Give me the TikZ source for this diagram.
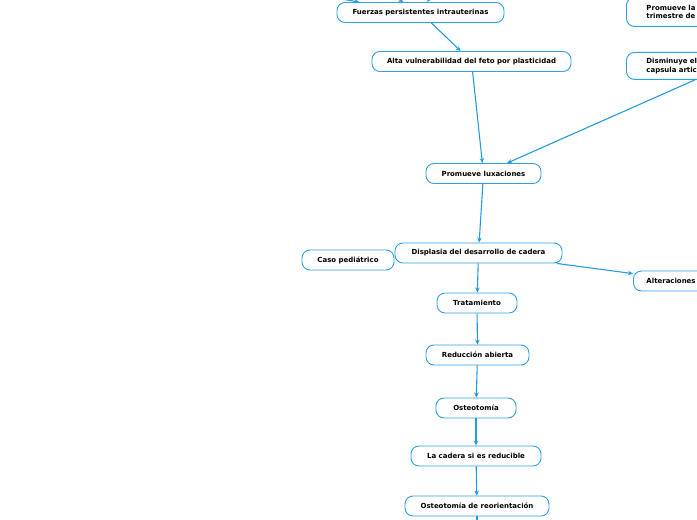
\documentclass[tikz,border=0pt]{standalone}
\usepackage{fontspec}
\setmainfont{DejaVu Sans}
\usetikzlibrary{arrows.meta}
\definecolor{edgeblue}{RGB}{35,155,225}
\definecolor{boxblue}{RGB}{45,160,230}
\tikzset{
  topic/.style={draw=boxblue, line width=0.9bp, rounded corners=8bp, fill=white,
    minimum height=20bp, inner sep=0pt, font=\fontsize{7}{8.4}\selectfont\bfseries, text=black},
  link/.style={draw=edgeblue, line width=1.1bp, -{Stealth[length=5bp,width=4.5bp]}},
}
\begin{document}
\begin{tikzpicture}[x=1bp,y=-1bp]
\useasboundingbox (0,0) rectangle (697,520);
\clip (0,0) rectangle (697,520);
\node[topic, minimum width=167bp] (fuerzas) at (420.5,12.5) {Fuerzas persistentes intrauterinas};
\node[topic, minimum width=199bp] (alta) at (471.5,61.5) {Alta vulnerabilidad del feto por plasticidad};
\node[topic, minimum width=200bp, minimum height=29bp, anchor=north west, align=left, text width=160bp, inner xsep=20bp] (promla) at (626,-3) {Promueve la\\trimestre de};
\node[topic, minimum width=200bp, minimum height=27bp, anchor=north west, align=left, text width=160bp, inner xsep=20bp] (dism) at (626,52) {Disminuye el\\capsula artic};
\node[topic, minimum width=115bp] (lux) at (483.5,173.5) {Promueve luxaciones};
\node[topic, minimum width=167bp] (displasia) at (478.5,253) {Displasia del desarrollo de cadera};
\node[topic, minimum width=92bp] (caso) at (348,260) {Caso pediátrico};
\node[topic, minimum width=100bp, anchor=west, align=left, text width=84bp, inner xsep=13bp] (alter) at (633,281) {Alteraciones};
\node[topic, minimum width=80bp] (trat) at (477,303) {Tratamiento};
\node[topic, minimum width=103bp] (red) at (477.5,355) {Reducción abierta};
\node[topic, minimum width=80bp] (osteo) at (476,408) {Osteotomía};
\node[topic, minimum width=130bp] (cadera) at (476,456) {La cadera si es reducible};
\node[topic, minimum width=144bp] (reor) at (477,506) {Osteotomía de reorientación};
\coordinate (in1) at (312,-6);
\coordinate (in2) at (390,-6);
\coordinate (in3) at (432.5,-6);
\coordinate (out1) at (477,530);
\draw[link] (in1) -- (fuerzas);
\draw[link] (in2) -- (fuerzas);
\draw[link] (in3) -- (fuerzas);
\draw[link] (fuerzas) -- (alta);
\draw[link] (alta) -- (lux);
\draw[link] (dism) -- (lux);
\draw[link] (lux) -- (displasia);
\draw[link] (displasia) -- (alter);
\draw[link] (displasia) -- (trat);
\draw[link] (trat) -- (red);
\draw[link] (red) -- (osteo);
\draw[link] (osteo) -- (cadera);
\draw[link] (cadera) -- (reor);
\draw[draw=edgeblue, line width=1.1bp] (reor) -- (out1);
\end{tikzpicture}
\end{document}
